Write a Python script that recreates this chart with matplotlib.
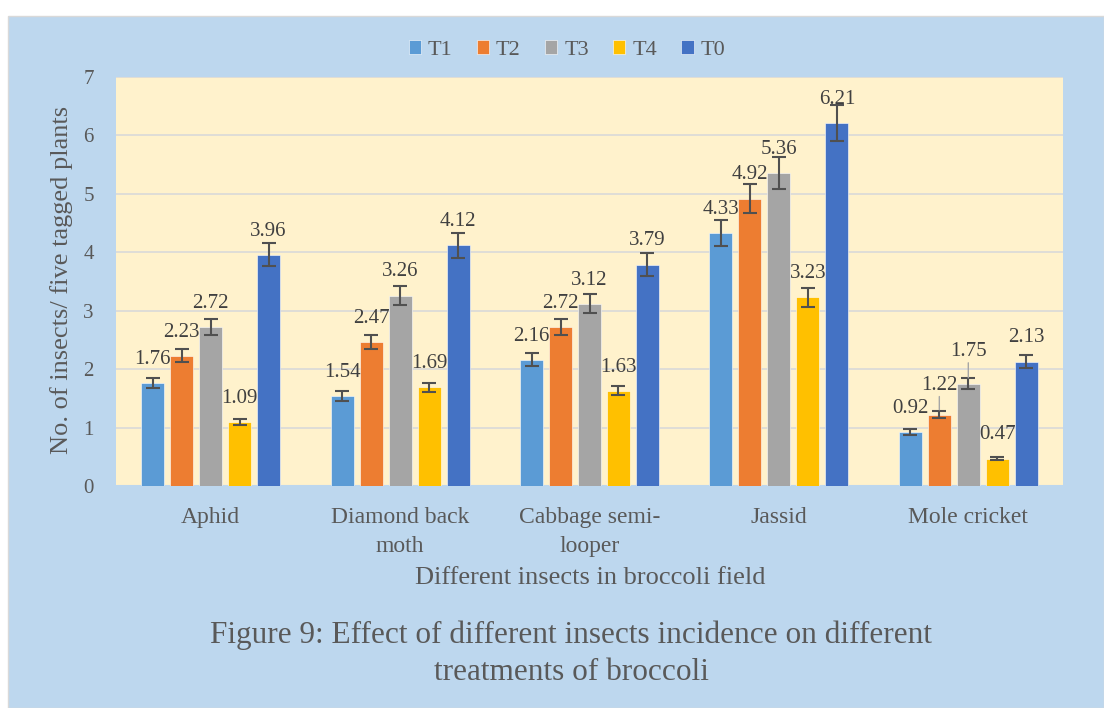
import numpy as np
import matplotlib
matplotlib.use("Agg")
import matplotlib.pyplot as plt
from matplotlib.patches import Rectangle

# Data
insects = ["Aphid", "Diamond back\nmoth", "Cabbage semi-\nlooper", "Jassid", "Mole cricket"]
treatments = ["T1", "T2", "T3", "T4", "T0"]
t1 = [1.76, 1.54, 2.16, 4.33, 0.92]
t2 = [2.23, 2.47, 2.72, 4.92, 1.22]
t3 = [2.72, 3.26, 3.12, 5.36, 1.75]
t4 = [1.09, 1.69, 1.63, 3.23, 0.47]
t0 = [3.96, 4.12, 3.79, 6.21, 2.13]
# error bar half-lengths
t1_err = [0.09, 0.08, 0.11, 0.22, 0.05]
t2_err = [0.11, 0.12, 0.14, 0.25, 0.06]
t3_err = [0.14, 0.16, 0.16, 0.27, 0.09]
t4_err = [0.05, 0.08, 0.08, 0.16, 0.02]
t0_err = [0.20, 0.21, 0.19, 0.31, 0.11]

series = [t1, t2, t3, t4, t0]
errors = [t1_err, t2_err, t3_err, t4_err, t0_err]
colors = ["#5B9BD5", "#ED7D31", "#A5A5A5", "#FFC000", "#4472C4"]

txt = "#595959"
plt.rcParams["font.family"] = ["Liberation Serif", "DejaVu Serif"]

fig = plt.figure(figsize=(11.04, 7.08), dpi=100, facecolor="white")
fig.patches.append(Rectangle((8 / 1104, 0), 1096 / 1104, 692 / 708,
                             transform=fig.transFigure, facecolor="#BDD7EE",
                             edgecolor="#D9D9D9", linewidth=1, zorder=-10))

ax = fig.add_axes([116 / 1104, 1 - 486 / 708, 947 / 1104, 409 / 708])
ax.set_facecolor("#FFF2CC")

x = np.arange(len(insects))
pitch = 0.153
width = 0.121
for i, (vals, errs) in enumerate(zip(series, errors)):
    pos = x + (i - 2) * pitch
    ax.bar(pos, vals, width, color=colors[i], edgecolor="#FFFFFF", linewidth=0.4,
           label=treatments[i], zorder=3,
           yerr=errs, error_kw=dict(ecolor="#505050", elinewidth=1.5, capsize=4.8,
                                    capthick=1.5, zorder=4))
    for j, (px, v) in enumerate(zip(pos, vals)):
        dy = 17
        # moved labels with leader lines in the mole cricket group
        if j == 4 and i == 1:
            dy = 21
        if j == 4 and i == 2:
            dy = 23
        ax.annotate(f"{v:.2f}", (px, v), xytext=(0, dy), textcoords="offset points",
                    ha="center", va="center", fontsize=15, color="#404040", zorder=5)
        if j == 4 and i in (1, 2):
            ax.annotate("", (px, v + errs[j] * 0.6), xytext=(px, v + (dy - 6) / 41.0 * 0.98),
                        arrowprops=dict(arrowstyle="-", color="#A6A6A6", lw=1), zorder=5)

ax.set_ylim(0, 7)
ax.set_xlim(-0.5, len(insects) - 0.5)
ax.set_yticks(range(0, 8))
ax.yaxis.grid(True, color="#D9D9D9", linewidth=1.2, zorder=0)
ax.set_axisbelow(True)
for s in ["left", "right", "top"]:
    ax.spines[s].set_visible(False)
ax.spines["bottom"].set_color("#BDD7EE")
ax.spines["bottom"].set_linewidth(1.5)
ax.tick_params(axis="both", length=0, labelsize=15, colors=txt)
ax.tick_params(axis="x", labelsize=17, pad=15)
ax.tick_params(axis="y", pad=16)
ax.set_xticks(x)
ax.set_xticklabels(insects, linespacing=1.5)

fig.text(62 / 1104, 1 - 280 / 708, "No. of insects/ five tagged plants", rotation=90,
         ha="center", va="center", fontsize=19, color=txt)
fig.text(590 / 1104, 1 - 578 / 708, "Different insects in broccoli field",
         ha="center", va="center", fontsize=19, color=txt)
fig.text(571 / 1104, 1 - 635 / 708,
         "Figure 9: Effect of different insects incidence on different",
         ha="center", va="center", fontsize=22.5, color=txt)
fig.text(571 / 1104, 1 - 672 / 708, "treatments of broccoli",
         ha="center", va="center", fontsize=22.5, color=txt)

fig.legend(loc="center", bbox_to_anchor=(567 / 1104, 1 - 50 / 708), ncol=5,
           frameon=False, fontsize=16, handlelength=0.55, handleheight=0.6,
           handletextpad=0.3, columnspacing=1.1, labelcolor=txt)

fig.savefig("out.png", dpi=100, facecolor=fig.get_facecolor())
